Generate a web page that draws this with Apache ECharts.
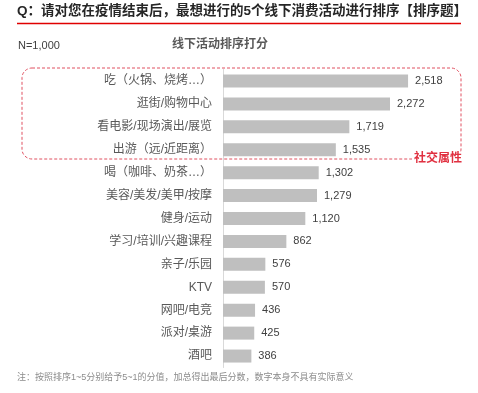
<!DOCTYPE html>
<html><head><meta charset="utf-8">
<script src="https://cdn.jsdelivr.net/npm/echarts@6/dist/echarts.min.js"></script>
<style>html,body{margin:0;padding:0;background:#fff}#c{width:478px;height:393px}</style>
</head><body><div id="c"></div>
<script>
const categories = ['吃（火锅、烧烤…）','逛街/购物中心','看电影/现场演出/展览','出游（远/近距离）','喝（咖啡、奶茶…）','美容/美发/美甲/按摩','健身/运动','学习/培训/兴趣课程','亲子/乐园','KTV','网吧/电竞','派对/桌游','酒吧'];
const scores = [2518,2272,1719,1535,1302,1279,1120,862,576,570,436,425,386];
const FONT = '"Liberation Sans","Noto Sans CJK SC",sans-serif';
const chart = echarts.init(document.getElementById('c'));
chart.setOption({
  animation:false,
  textStyle:{fontFamily:FONT},
  grid:{left:223,right:34.5,top:69.5,bottom:25.5,containLabel:false},
  xAxis:{type:'value',min:0,max:3000,show:false},
  yAxis:{type:'category',data:categories,inverse:true,
    axisLine:{show:true,lineStyle:{color:'#d9d9d9',width:1}},
    axisTick:{show:false},
    axisLabel:{color:'#595959',fontSize:12,margin:11,fontFamily:FONT}},
  series:[{type:'bar',data:scores,barWidth:13,itemStyle:{color:'#bfbfbf'},
    label:{show:true,position:'right',distance:7,color:'#404040',fontSize:11,fontFamily:FONT,
      formatter:p=>p.value.toLocaleString('en-US')}}],
  graphic:[
    {type:'text',left:17,top:5,style:{text:'Q：请对您在疫情结束后，最想进行的5个线下消费活动进行排序【排序题】',fontSize:13.5,fontWeight:'bold',fill:'#262626',fontFamily:FONT}},
    {type:'line',shape:{x1:17,y1:23.5,x2:461,y2:23.5},style:{stroke:'#e00000',lineWidth:1.5}},
    {type:'text',left:18,top:40,style:{text:'N=1,000',fontSize:11,fill:'#404040',fontFamily:FONT}},
    {type:'text',left:172,top:39,style:{text:'线下活动排序打分',fontSize:12,fontWeight:'bold',fill:'#595959',fontFamily:FONT}},
    {type:'rect',shape:{x:22,y:68,width:439,height:91,r:10},style:{fill:'none',stroke:'#e05060',lineWidth:1,lineDash:[3,2]},z:10},
    {type:'text',x:412,y:152,style:{text:'社交属性',fontSize:12,fontWeight:'bold',fill:'#e03040',backgroundColor:'#fff',padding:[1,2],fontFamily:FONT},z:11},
    {type:'text',left:17,top:373,style:{text:'注：按照排序1~5分别给予5~1的分值，加总得出最后分数，数字本身不具有实际意义',fontSize:9,fill:'#8c8c8c',fontFamily:FONT}}
  ]
});
</script></body></html>
